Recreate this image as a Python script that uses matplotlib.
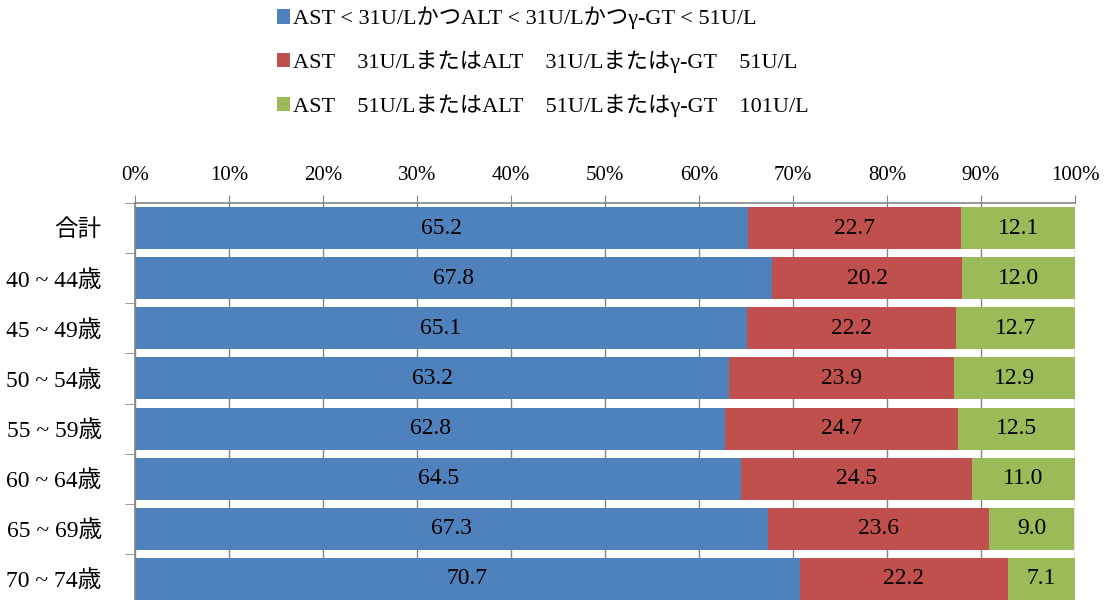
import numpy as np
import matplotlib.pyplot as plt
from matplotlib.patches import Patch

plt.rcParams['font.family'] = ['Liberation Serif', 'Noto Sans CJK JP']

# datos
categories = ['合計', '40 ~ 44歳', '45 ~ 49歳', '50 ~ 54歳', '55 ~ 59歳', '60 ~ 64歳', '65 ~ 69歳', '70 ~ 74歳']
normal = [65.2, 67.8, 65.1, 63.2, 62.8, 64.5, 67.3, 70.7]
mild = [22.7, 20.2, 22.2, 23.9, 24.7, 24.5, 23.6, 22.2]
high = [12.1, 12.0, 12.7, 12.9, 12.5, 11.0, 9.0, 7.1]
series_labels = ['AST < 31U/LかつALT < 31U/Lかつγ-GT < 51U/L',
                 'AST　31U/LまたはALT　31U/Lまたはγ-GT　51U/L',
                 'AST　51U/LまたはALT　51U/Lまたはγ-GT　101U/L']
colors = ['#4F81BD', '#C0504D', '#9BBB59']

fig = plt.figure(figsize=(11.07, 6), dpi=100)
ax = fig.add_axes([135 / 1107, -4 / 600, 940 / 1107, 401 / 600])

y = np.arange(len(categories))
left = np.zeros(len(categories))
for vals, col in zip([normal, mild, high], colors):
    vals = np.array(vals)
    ax.barh(y, vals, left=left, height=0.84, color=col, zorder=2)
    for yi, l, v in zip(y, left, vals):
        ax.text(l + v / 2, yi, f'{v:.1f}', ha='center', va='center', fontsize=17, zorder=3)
    left = left + vals

ax.set_xlim(0, 100)
ax.set_ylim(len(categories) - 0.5, -0.5)
ax.xaxis.tick_top()
ax.set_xticks(np.arange(0, 101, 10))
ax.set_xticklabels([f'{v}%' for v in range(0, 101, 10)], fontsize=15)
ax.tick_params(axis='x', length=6, color='#868686', pad=7)
ax.xaxis.grid(True, color='#868686', linewidth=1, zorder=0)

ax.set_yticks(y)
ax.set_yticklabels(categories, fontsize=17)
ax.set_yticks(np.arange(-0.5, len(categories), 1), minor=True)
ax.tick_params(axis='y', which='major', length=0, pad=24)
ax.tick_params(axis='y', which='minor', length=7, color='#868686')

for s in ['right', 'bottom']:
    ax.spines[s].set_visible(False)
for s in ['top', 'left']:
    ax.spines[s].set_color('#868686')
    ax.spines[s].set_linewidth(1.2)

handles = [Patch(facecolor=c) for c in colors]
fig.legend(handles, series_labels, loc='upper left', bbox_to_anchor=(0.232, 1.022),
           frameon=False, fontsize=16, handlelength=0.6, handleheight=0.6,
           handletextpad=0.15, labelspacing=0.95)

fig.savefig('out.png', dpi=100)
